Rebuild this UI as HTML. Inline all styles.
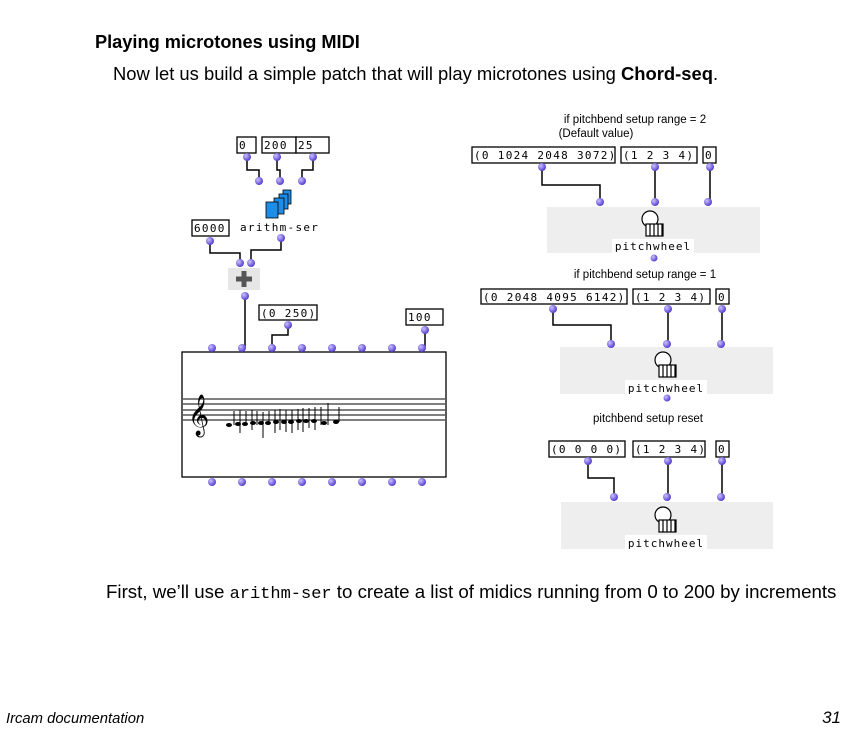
<!DOCTYPE html>
<html><head><meta charset="utf-8"><style>
body{margin:0;background:#fff;width:853px;height:733px;overflow:hidden;}
svg{display:block}
.t{font-family:"Liberation Sans",sans-serif;}
.m{font-family:"DejaVu Sans Mono","Liberation Mono",monospace;font-size:11px;letter-spacing:1.3px;}
.s{font-family:"Liberation Sans",sans-serif;font-size:11.5px;}
</style></head><body>
<svg width="853" height="733" viewBox="0 0 853 733" xmlns="http://www.w3.org/2000/svg">
<defs><radialGradient id="g" cx="35%" cy="35%" r="65%"><stop offset="0" stop-color="#c9c2ff"/><stop offset="1" stop-color="#5a3fd0"/></radialGradient></defs>
<text class="t" x="95" y="48" font-size="18.2" font-weight="bold">Playing microtones using MIDI</text>
<text class="t" x="113" y="80" font-size="18.4">Now let us build a simple patch that will play microtones using <tspan font-weight="bold">Chord-seq</tspan>.</text>
<text class="t" x="106" y="598" font-size="18.7">First, we’ll use <tspan font-family="Liberation Mono,monospace" font-size="17">arithm-ser</tspan> to create a list of midics running from 0 to 200 by increments</text>
<text class="t" x="6" y="723" font-size="14.8" font-style="italic">Ircam documentation</text>
<text class="t" x="841" y="723" font-size="17" font-style="italic" text-anchor="end">31</text>

<g fill="none" stroke="#000" stroke-width="1.5">
<path d="M247,157V170H259V181M277,157V170H280V181M313,157V170H302V181"/>
<path d="M210,241V253H240V263M281,238V250H251V263"/>
<path d="M245,296V348M288,325V335H272V348M425,330V348"/>
<path d="M542,167V185H600V202M655,167V202M710,167V202"/>
<path d="M553,309V325H611V344M668,309V344M722,309V344"/>
<path d="M588,461V478H614V497M668,461V497M722,461V497"/>
</g>
<g fill="#fff" stroke="#000" stroke-width="1.3">
<rect x="237" y="137" width="19" height="16"/><rect x="262" y="137" width="34" height="16"/><rect x="296" y="137" width="33" height="16"/>
<rect x="192" y="220" width="37" height="16"/><rect x="259" y="305" width="58" height="15"/><rect x="406" y="309" width="37" height="16"/>
<rect x="182" y="352" width="264" height="125"/>
<rect x="472" y="147" width="143" height="16"/><rect x="621" y="147" width="76" height="16"/><rect x="703" y="147" width="13" height="16"/>
<rect x="481" y="289" width="146" height="15"/><rect x="633" y="289" width="77" height="15"/><rect x="716" y="289" width="13" height="15"/>
<rect x="549" y="441" width="76" height="16"/><rect x="633" y="441" width="72" height="16"/><rect x="716" y="441" width="13" height="16"/>
</g>
<g class="m">
<text x="239" y="149">0</text><text x="264" y="149">200</text><text x="298" y="149">25</text>
<text x="194" y="232">6000</text><text x="261" y="317">(0 250)</text><text x="408" y="321">100</text>
<text x="474" y="159">(0 1024 2048 3072)</text><text x="623" y="159">(1 2 3 4)</text><text x="705" y="159">0</text>
<text x="483" y="301">(0 2048 4095 6142)</text><text x="635" y="301">(1 2 3 4)</text><text x="718" y="301">0</text>
<text x="551" y="453">(0 0 0 0)</text><text x="635" y="453">(1 2 3 4)</text><text x="718" y="453">0</text>
<text x="240" y="231">arithm-ser</text>
</g>
<g class="s" text-anchor="middle">
<text x="635" y="123">if pitchbend setup range = 2</text>
<text x="596" y="137">(Default value)</text>
<text x="645" y="278">if pitchbend setup range = 1</text>
<text x="648" y="422">pitchbend setup reset</text>
</g>
<g stroke="#000" stroke-width="0.8" fill="#1e8de8">
<rect x="283" y="190" width="8" height="14"/><rect x="279" y="194" width="9" height="15"/><rect x="274" y="198" width="10" height="16"/><rect x="266" y="202" width="12" height="16"/>
</g>
<rect x="228" y="268" width="32" height="22" fill="#e6e6e6"/>
<path d="M244,271V287M236,279H252" stroke="#555" stroke-width="5"/>
<g fill="#eeeeee"><rect x="547" y="207" width="213" height="46"/><rect x="560" y="347" width="213" height="47"/><rect x="561" y="502" width="212" height="47"/></g>
<g font-family="DejaVu Sans Mono,monospace" font-size="11" text-anchor="middle" fill="#000">
<rect x="612" y="239" width="82" height="14" fill="#fff"/><text x="653" y="250" letter-spacing="1">pitchwheel</text>
<rect x="625" y="380" width="82" height="14" fill="#fff"/><text x="666" y="392" letter-spacing="1">pitchwheel</text>
<rect x="625" y="535" width="82" height="14" fill="#fff"/><text x="666" y="547" letter-spacing="1">pitchwheel</text>
</g>
<g fill="#fff" stroke="#000" stroke-width="1.2">
<g transform="translate(650,219)"><circle cx="0" cy="0" r="8"/><rect x="-4" y="5" width="17" height="12"/><path d="M0,5V17M4,5V17M8,5V17M12,5V17"/></g>
<g transform="translate(663,360)"><circle cx="0" cy="0" r="8"/><rect x="-4" y="5" width="17" height="12"/><path d="M0,5V17M4,5V17M8,5V17M12,5V17"/></g>
<g transform="translate(663,515)"><circle cx="0" cy="0" r="8"/><rect x="-4" y="5" width="17" height="12"/><path d="M0,5V17M4,5V17M8,5V17M12,5V17"/></g>
</g>
<g stroke="#000" stroke-width="1"><path d="M183,399H445M183,404H445M183,410H445M183,415H445M183,420H445"/></g>
<text x="188" y="427" font-size="36" font-family="DejaVu Sans,sans-serif">𝄞</text>
<g fill="#000" stroke="#000">
<g stroke-width="1"><path d="M234,411V425M240,410V433M246,411V425M252,410V430M257,411V425M263,412V438M269,411V425M275,410V433M280,409V430M286,410V432M292,410V433M298,409V430M303,408V432M309,408V428M315,407V430M321,407V425M328,403V425M339,407V422"/></g>
<g stroke="none"><ellipse cx="229" cy="425" rx="3" ry="2"/><ellipse cx="238" cy="424" rx="3" ry="2"/><ellipse cx="245" cy="424" rx="3" ry="2"/><ellipse cx="253" cy="423" rx="3" ry="2"/><ellipse cx="261" cy="423" rx="3" ry="2"/><ellipse cx="268" cy="423" rx="3" ry="2"/><ellipse cx="276" cy="422" rx="3" ry="2"/><ellipse cx="284" cy="422" rx="3" ry="2"/><ellipse cx="291" cy="422" rx="3" ry="2"/><ellipse cx="299" cy="421" rx="3" ry="2"/><ellipse cx="306" cy="421" rx="3" ry="2"/><ellipse cx="314" cy="421" rx="3" ry="2"/><ellipse cx="324" cy="423" rx="3" ry="2"/><ellipse cx="336" cy="422" rx="3" ry="2"/></g>
</g>
<g fill="url(#g)">
<circle cx="247" cy="157" r="4"/><circle cx="277" cy="157" r="4"/><circle cx="313" cy="157" r="4"/>
<circle cx="259" cy="181" r="4"/><circle cx="280" cy="181" r="4"/><circle cx="302" cy="181" r="4"/>
<circle cx="281" cy="238" r="4"/><circle cx="210" cy="241" r="4"/>
<circle cx="240" cy="263" r="4"/><circle cx="251" cy="263" r="4"/><circle cx="245" cy="296" r="4"/>
<circle cx="288" cy="325" r="4"/><circle cx="425" cy="330" r="4"/>
<circle cx="212" cy="348" r="4"/><circle cx="242" cy="348" r="4"/><circle cx="272" cy="348" r="4"/><circle cx="302" cy="348" r="4"/><circle cx="332" cy="348" r="4"/><circle cx="362" cy="348" r="4"/><circle cx="392" cy="348" r="4"/><circle cx="422" cy="348" r="4"/>
<circle cx="212" cy="482" r="4"/><circle cx="242" cy="482" r="4"/><circle cx="272" cy="482" r="4"/><circle cx="302" cy="482" r="4"/><circle cx="332" cy="482" r="4"/><circle cx="362" cy="482" r="4"/><circle cx="392" cy="482" r="4"/><circle cx="422" cy="482" r="4"/>
<circle cx="542" cy="167" r="4"/><circle cx="655" cy="167" r="4"/><circle cx="710" cy="167" r="4"/>
<circle cx="600" cy="202" r="4"/><circle cx="655" cy="202" r="4"/><circle cx="708" cy="202" r="4"/><circle cx="654" cy="258" r="3.5"/>
<circle cx="553" cy="309" r="4"/><circle cx="668" cy="309" r="4"/><circle cx="722" cy="309" r="4"/>
<circle cx="611" cy="344" r="4"/><circle cx="667" cy="344" r="4"/><circle cx="721" cy="344" r="4"/><circle cx="667" cy="398" r="3.5"/>
<circle cx="588" cy="461" r="4"/><circle cx="668" cy="461" r="4"/><circle cx="722" cy="461" r="4"/>
<circle cx="614" cy="497" r="4"/><circle cx="667" cy="497" r="4"/><circle cx="721" cy="497" r="4"/>
</g>
</svg>
</body></html>
